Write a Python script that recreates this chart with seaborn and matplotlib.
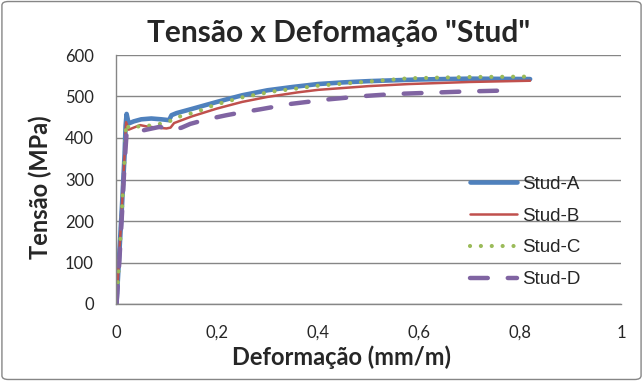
import numpy as np
import pandas as pd
import matplotlib
matplotlib.use('Agg')
import matplotlib.pyplot as plt
from matplotlib.patches import FancyBboxPatch
import seaborn as sns

# dados (deformação mm/m, tensão MPa)
def_a = [0.001, 0.006, 0.012, 0.017, 0.019, 0.021, 0.025, 0.035, 0.05, 0.07, 0.09, 0.105,
         0.11, 0.12, 0.15, 0.2, 0.25, 0.3, 0.35, 0.4, 0.45, 0.5, 0.6, 0.7, 0.82]
ten_a = [0, 110, 240, 360, 430, 458, 435, 440, 445, 447, 445, 443,
         455, 460, 470, 487, 503, 515, 523, 530, 534, 537, 541, 543, 542]

def_b = [0.001, 0.006, 0.012, 0.017, 0.02, 0.025, 0.035, 0.048, 0.06, 0.08, 0.1, 0.108,
         0.115, 0.15, 0.2, 0.25, 0.3, 0.36, 0.4, 0.5, 0.58, 0.7, 0.82]
ten_b = [0, 110, 240, 360, 438, 420, 425, 431, 428, 425, 423, 425,
         436, 452, 471, 487, 499, 510, 516, 525, 530, 535, 538]

def_c = [0.001, 0.006, 0.012, 0.017, 0.02, 0.025, 0.032, 0.045, 0.06, 0.08, 0.104, 0.121,
         0.16, 0.196, 0.25, 0.31, 0.35, 0.4, 0.5, 0.58, 0.7, 0.82]
ten_c = [0, 100, 230, 350, 435, 425, 423, 428, 429, 432, 439, 450,
         463, 480, 498, 512, 518, 526, 536, 544, 547, 548]

def_d = [0.001, 0.006, 0.012, 0.017, 0.021, 0.03, 0.041, 0.06, 0.087, 0.1, 0.11, 0.13,
         0.147, 0.18, 0.219, 0.25, 0.285, 0.345, 0.42, 0.49, 0.55, 0.62, 0.69, 0.79]
ten_d = [0, 90, 220, 340, 412, 414, 415, 420, 427, 422, 418, 425,
         434, 445, 455, 462, 469, 482, 493, 501, 506, 509, 512, 515]

xticks = [0, 0.2, 0.4, 0.6, 0.8, 1]
xtick_labels = ['0', '0,2', '0,4', '0,6', '0,8', '1']
yticks = [0, 100, 200, 300, 400, 500, 600]

sns.set_style("white")
plt.rcParams['font.family'] = ['Lato', 'DejaVu Sans']

cinza = '#868686'

fig = plt.figure(figsize=(6.43, 3.81), dpi=100)
ax = fig.add_axes([116/643, 1 - 304/381, 505/643, 249/381])

# curvas
sns.lineplot(x=def_a, y=ten_a, ax=ax, color='#4F81BD', lw=3.3, label='Stud-A',
             solid_capstyle='round', sort=False)
sns.lineplot(x=def_b, y=ten_b, ax=ax, color='#C0504D', lw=1.8, label='Stud-B', sort=False)
sns.lineplot(x=def_c, y=ten_c, ax=ax, color='#9BBB59', lw=3.0, label='Stud-C', sort=False,
             linestyle=(0, (0.01, 2.6)), dash_capstyle='round')
sns.lineplot(x=def_d, y=ten_d, ax=ax, color='#8064A2', lw=3.2, label='Stud-D', sort=False,
             linestyle=(0, (4, 4.5)), dash_capstyle='round')

ax.set_xlim(0, 1)
ax.set_ylim(0, 600)
ax.set_xticks(xticks)
ax.set_xticklabels(xtick_labels)
ax.set_xticks(np.arange(0, 1.001, 0.04), minor=True)
ax.set_yticks(yticks)

# grade e eixos
ax.grid(axis='y', color=cinza, lw=1)
ax.set_axisbelow(True)
for s in ['top', 'right']:
    ax.spines[s].set_visible(False)
for s in ['left', 'bottom']:
    ax.spines[s].set_color(cinza)
    ax.spines[s].set_linewidth(1)
ax.tick_params(axis='x', which='major', direction='inout', length=12, color=cinza,
               labelsize=12, pad=9)
ax.tick_params(axis='x', which='minor', direction='in', length=4, color=cinza)
ax.tick_params(axis='y', length=0, labelsize=12, pad=16)

ax.legend(loc='center left', bbox_to_anchor=(0.701, 0.289), frameon=False,
          prop={'family': 'Liberation Sans', 'size': 13.5}, handlelength=2.5,
          handletextpad=0.3, labelspacing=0.78, borderpad=0, borderaxespad=0)

# títulos
fig.text(339/643, 1 - 33/381, 'Tensão x Deformação "Stud"', ha='center', va='center',
         fontsize=21.5, fontweight='bold')
fig.text(342/643, 1 - 357/381, 'Deformação (mm/m)', ha='center', va='center',
         fontsize=17, fontweight='bold')
fig.text(40/643, 1 - 187/381, 'Tensão (MPa)', ha='center', va='center',
         fontsize=17, fontweight='bold', rotation=90)

# moldura do gráfico
borda = FancyBboxPatch((0.003, 0.004), 0.994, 0.992, boxstyle='round,pad=0,rounding_size=0.01',
                       transform=fig.transFigure, fill=False, edgecolor=cinza, lw=1)
fig.patches.append(borda)

plt.savefig('out.png', dpi=100)
